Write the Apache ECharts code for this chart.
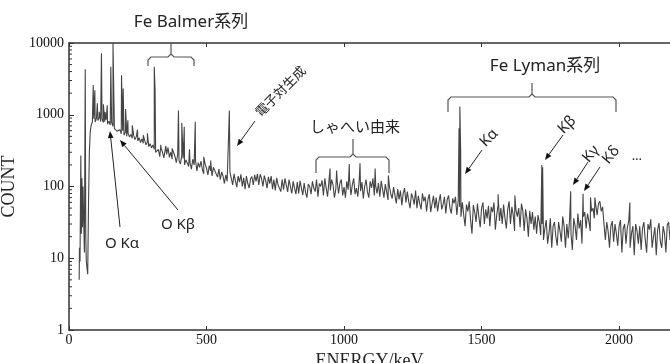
<!DOCTYPE html>
<html>
<head>
<meta charset="utf-8">
<script src="https://cdn.jsdelivr.net/npm/echarts@6/dist/echarts.min.js"></script>
<style>
  html, body { margin: 0; padding: 0; background: #fff; }
  #main { width: 670px; height: 363px; }
</style>
</head>
<body>
<div id="main"></div>
<script>
// 目盛
const xTicks = [0, 500, 1000, 1500, 2000];
const yTicks = [1, 10, 100, 1000, 10000];

// 立ち上がり部分 (keV / count)
const headEnergy = [37, 38, 40, 43, 45, 47, 49, 51, 53, 56, 59, 61, 63, 66, 68, 71, 74, 77];
const headCount = [5, 14, 9, 270, 22, 130, 27, 100, 40, 12, 4300, 20, 9, 7, 6, 60, 300, 560];

// 連続部分: 80 keV から 5 keV ごと
const startEnergy = 80;
const stepEnergy = 5;
const counts = [
  700, 800, 880, 790, 900, 830, 920, 800, 880, 780,
  800, 850, 740, 810, 720, 780, 690, 640, 610, 590,
  570, 620, 540, 600, 520, 570, 500, 550, 490, 530,
  470, 520, 450, 500, 430, 480, 410, 460, 400, 440,
  380, 420, 360, 395, 345, 380, 330, 300, 290, 330,
  260, 340, 300, 250, 330, 280, 350, 255, 300, 240,
  300, 265, 215, 275, 230, 205, 270, 245, 200, 235,
  250, 190, 215, 175, 240, 200, 230, 165, 215, 185,
  225, 170, 150, 205, 180, 145, 195, 165, 140, 185,
  185, 150, 135, 175, 125, 160, 140, 110, 145, 118,
  115, 160, 130, 105, 150, 120, 98, 140, 115, 148,
  100, 132, 92, 140, 110, 95, 128, 138, 105, 145,
  118, 150, 105, 148, 130, 100, 142, 120, 95, 136,
  110, 140, 92, 125, 88, 132, 105, 95, 85, 125,
  90, 130, 105, 84, 125, 100, 80, 118, 95, 78,
  115, 80, 120, 95, 76, 112, 82, 70, 108, 100,
  78, 118, 95, 85, 125, 72, 110, 100, 122, 75,
  130, 95, 72, 118, 88, 125, 105, 70, 92, 120,
  80, 112, 125, 75, 98, 70, 118, 90, 128, 76,
  105, 130, 78, 95, 72, 122, 86, 115, 68, 100,
  125, 84, 70, 118, 96, 130, 75, 102, 80, 112,
  72, 120, 92, 70, 108, 115, 65, 100, 78, 68,
  98, 75, 58, 92, 66, 88, 55, 80, 95, 60,
  85, 62, 50, 80, 70, 56, 88, 50, 74, 58,
  48, 80, 62, 72, 45, 66, 78, 44, 58, 74,
  50, 70, 45, 62, 78, 48, 56, 72, 42, 66,
  75, 50, 42, 68, 58, 72, 40, 64, 52, 38,
  60, 40, 28, 56, 45, 62, 34, 22, 55, 44,
  32, 58, 38, 27, 50, 60, 30, 48, 36, 54,
  28, 52, 44, 60, 25, 40, 55, 33, 50, 30,
  56, 36, 26, 48, 62, 30, 52, 40, 24, 47,
  38, 50, 27, 58, 45, 24, 48, 36, 20, 46,
  30, 44, 25, 38, 22, 40, 32, 21, 30, 18,
  26, 34, 16, 22, 36, 14, 28, 32, 20, 15,
  32, 24, 17, 38, 28, 14, 30, 19, 35, 22,
  13, 36, 28, 18, 42, 26, 34, 16, 38, 44,
  26, 42, 33, 24, 45, 50, 36, 55, 40, 58,
  62, 45, 52, 30, 18, 32, 24, 14, 28, 33,
  17, 30, 22, 15, 28, 34, 12, 26, 30, 16,
  27, 33, 14, 22, 28, 11, 30, 24, 16, 28,
  13, 26, 32, 18, 12, 30, 25, 35, 14, 20,
  27, 11, 25, 31, 17, 14, 28, 22, 12, 29,
  32, 18
];

// 輝線ピーク
const peakEnergy = [88, 94, 103, 110, 118, 125, 131, 139, 152, 160, 191, 197, 206, 214, 230, 249, 270, 285,
  310, 313, 334, 352, 375, 398, 410, 419, 438, 459, 490, 515, 583,
  949, 973, 1019, 1058, 1113, 1161, 1418, 1421, 1424, 1560, 1621, 1719, 1722, 1824, 1869, 1896, 1912, 2039];
const peakCount = [2600, 2200, 1440, 1100, 7200, 1400, 1090, 1360, 4650, 9900, 3550, 2330, 1200, 840, 710, 620, 520, 550,
  4650, 2200, 380, 370, 340, 1150, 770, 680, 330, 800, 260, 230, 1150,
  178, 167, 205, 210, 178, 142, 650, 1300, 300, 78, 75, 200, 185, 86, 79, 71, 70, 60];

const serif = '"Liberation Serif", "Times New Roman", serif';
const sans = '"Noto Sans", "Noto Sans CJK JP", sans-serif';
const gridLeft = 69;

function buildSpectrum() {
  const pts = [];
  headEnergy.forEach((e, i) => pts.push([e, headCount[i]]));
  counts.forEach((c, i) => pts.push([startEnergy + i * stepEnergy, c]));
  peakEnergy.forEach((e, i) => pts.push([e, peakCount[i]]));
  pts.sort((a, b) => a[0] - b[0]);
  return pts;
}

const chart = echarts.init(document.getElementById('main'));

const axisLine = { lineStyle: { color: '#333', width: 1.5 } };
const plain = v => String(v);

chart.setOption({
  animation: false,
  grid: { left: gridLeft, right: 0, top: 43, bottom: 33, outerBoundsMode: 'none', containLabel: false },
  xAxis: [{
    type: 'value',
    min: 0,
    max: 2185,
    axisLine: axisLine,
    axisTick: { inside: true, length: 4, customValues: xTicks, lineStyle: { color: '#333' } },
    axisLabel: { customValues: xTicks, formatter: plain, fontFamily: serif, fontSize: 14, color: '#111', margin: 3 },
    splitLine: { show: false },
    name: 'ENERGY/keV',
    nameLocation: 'middle',
    nameGap: 15,
    nameTextStyle: { fontFamily: serif, fontSize: 18, color: '#222' }
  }, {
    type: 'value',
    position: 'top',
    min: 0,
    max: 2185,
    axisLine: axisLine,
    axisTick: { inside: true, length: 4, customValues: xTicks, lineStyle: { color: '#333' } },
    axisLabel: { show: false },
    splitLine: { show: false }
  }],
  yAxis: {
    type: 'log',
    logBase: 10,
    min: 1,
    max: 10000,
    axisLine: axisLine,
    axisTick: { inside: true, length: 5, lineStyle: { color: '#333' } },
    axisLabel: { formatter: plain, fontFamily: serif, fontSize: 14, color: '#111', margin: 5 },
    splitLine: { show: false },
    name: 'COUNT',
    nameLocation: 'middle',
    nameGap: 37,
    nameTextStyle: { fontFamily: serif, fontSize: 18, color: '#222' }
  },
  series: [{
    type: 'line',
    data: buildSpectrum(),
    showSymbol: false,
    clip: true,
    lineStyle: { color: '#444', width: 1.1 }
  }]
});

// 注記
function label(text, x, y, size, rot) {
  return {
    type: 'text', x: x, y: y, rotation: rot || 0, z: 10,
    style: {
      text: text, font: size + 'px ' + sans, fill: '#222',
      align: 'center', verticalAlign: 'middle',
      textAlign: 'center', textVerticalAlign: 'middle'
    }
  };
}

function arrow(x1, y1, x2, y2) {
  const a = Math.atan2(y2 - y1, x2 - x1);
  const L = 7, W = 2.8;
  const bx = x2 - L * Math.cos(a), by = y2 - L * Math.sin(a);
  return [
    { type: 'line', z: 10, shape: { x1: x1, y1: y1, x2: bx, y2: by }, style: { stroke: '#222', lineWidth: 1 } },
    { type: 'polygon', z: 10, shape: { points: [[x2, y2],
      [bx + W * Math.sin(a), by - W * Math.cos(a)],
      [bx - W * Math.sin(a), by + W * Math.cos(a)]] }, style: { fill: '#111' } }
  ];
}

function brace(x1, x2, y, yEnd, xm, yTip) {
  const r = 3;
  return {
    type: 'polyline', z: 10,
    shape: { points: [[x1, yEnd], [x1, y + r], [x1 + r, y], [xm - r, y], [xm, y - r], [xm, yTip],
      [xm, y - r], [xm + r, y], [x2 - r, y], [x2, y + r], [x2, yEnd]] },
    style: { stroke: '#555', lineWidth: 1.2, fill: null }
  };
}

const deg = Math.PI / 180;
let graphics = [
  label('Fe Balmer系列', 191, 22, 17),
  brace(148, 194, 57, 66, 171, 43),
  label('電子対生成', 281, 92, 13, 45 * deg),
  ...arrow(255, 121, 237, 146),
  label('しゃへい由来', 355, 128, 15),
  brace(316, 389, 157, 173, 353, 139),
  label('Fe Lyman系列', 545, 66, 17),
  brace(448, 616, 97, 112, 532, 83),
  label('Kα', 489, 138, 15, 45 * deg),
  ...arrow(482, 150, 465, 174),
  label('Kβ', 567, 125, 15, 45 * deg),
  ...arrow(563, 135, 545, 160),
  label('Kγ', 591, 154, 15, 50 * deg),
  ...arrow(588, 162, 573, 185),
  label('Kδ', 611, 155, 15, 50 * deg),
  ...arrow(600, 167, 584, 191),
  label('…', 637, 156, 13),
  label('O Kα', 122, 244, 15),
  ...arrow(120, 227, 110, 131),
  label('O Kβ', 178, 225, 15),
  ...arrow(178, 210, 120, 140)
];

// 対数軸の補助目盛 (2〜9)
yTicks.slice(0, -1).forEach(function (base) {
  for (let m = 2; m <= 9; m++) {
    const py = chart.convertToPixel({ yAxisIndex: 0 }, base * m);
    graphics.push({
      type: 'line', z: 10,
      shape: { x1: gridLeft, y1: py, x2: gridLeft + 3, y2: py },
      style: { stroke: '#333', lineWidth: 1 }
    });
  }
});

chart.setOption({ graphic: graphics });
</script>
</body>
</html>
